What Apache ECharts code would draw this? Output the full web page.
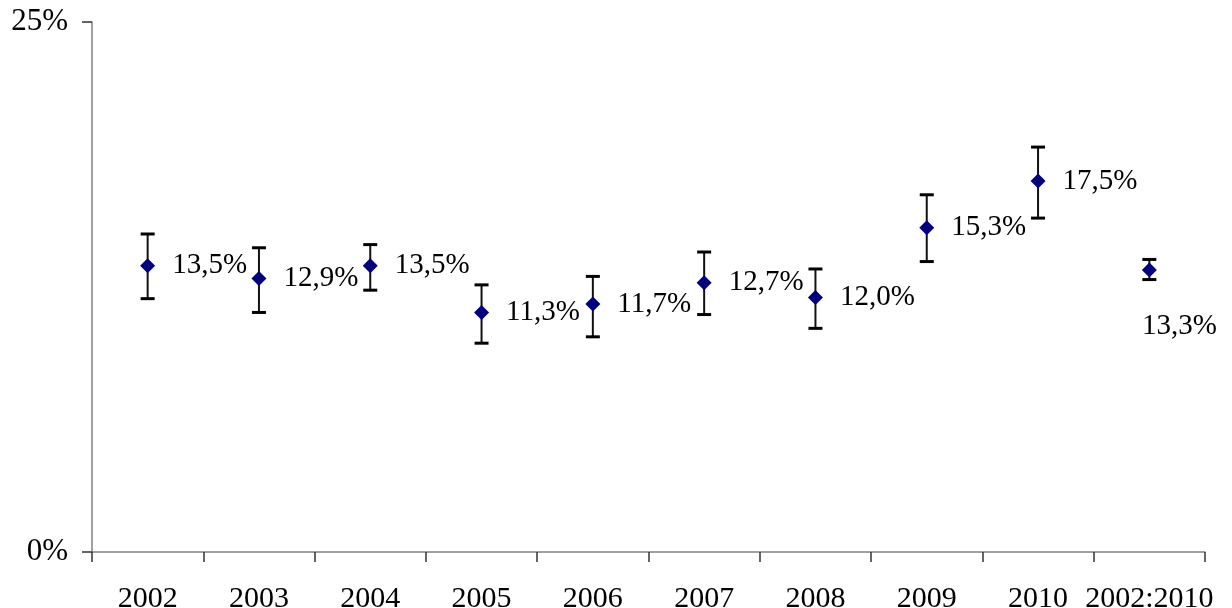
<!DOCTYPE html>
<html><head><meta charset="utf-8">
<script src="https://cdn.jsdelivr.net/npm/echarts@6/dist/echarts.min.js"></script>
<style>html,body{margin:0;padding:0;background:#fff}#c{width:1232px;height:608px}</style>
</head><body><div id="c"></div>
<script>
var categories = ['2002','2003','2004','2005','2006','2007','2008','2009','2010','2002:2010'];
var values = [13.5, 12.9, 13.5, 11.3, 11.7, 12.7, 12.0, 15.3, 17.5, 13.3];
var upper = [15.0, 14.35, 14.5, 12.6, 13.0, 14.15, 13.35, 16.85, 19.1, 13.8];
var lower = [11.95, 11.3, 12.35, 9.85, 10.15, 11.2, 10.55, 13.7, 15.75, 12.85];
var yTicks = [0, 25];

var FONT = '"Liberation Serif", "Times New Roman", serif';
var chart = echarts.init(document.getElementById('c'));
var errData = categories.map(function (c, i) { return [i, lower[i], upper[i]]; });
var ptData = values.map(function (v, i) {
  var d = { value: [i, v] };
  if (i === values.length - 1) d.label = { position: 'bottom', distance: 34, offset: [30, 0] };
  return d;
});
chart.setOption({
  animation: false,
  grid: { left: 92, right: 27, top: 22, bottom: 56, containLabel: false, outerBoundsMode: 'none' },
  xAxis: {
    type: 'category', data: categories, boundaryGap: true,
    axisLine: { lineStyle: { color: '#808080', width: 1.5 } },
    axisTick: { show: true, length: 10, lineStyle: { color: '#333', width: 1.5 } },
    axisLabel: { fontFamily: FONT, fontSize: 30, color: '#000', margin: 32, interval: 0 },
    splitLine: { show: false }
  },
  yAxis: {
    type: 'value', min: yTicks[0], max: yTicks[1], interval: 25,
    axisLine: { show: true, lineStyle: { color: '#808080', width: 1.5 } },
    axisTick: { show: true, length: 10, lineStyle: { color: '#333', width: 1.5 } },
    axisLabel: { fontFamily: FONT, fontSize: 31, color: '#000', margin: 24,
      formatter: function (v) { return v + '%'; } },
    splitLine: { show: false }
  },
  series: [
    {
      type: 'custom', data: errData, z: 2,
      renderItem: function (params, api) {
        var x = api.value(0);
        var lo = api.coord([x, api.value(1)]);
        var hi = api.coord([x, api.value(2)]);
        var hw = 7;
        return { type: 'group', children: [
          { type: 'line', shape: { x1: hi[0], y1: hi[1], x2: lo[0], y2: lo[1] }, style: { stroke: '#111', lineWidth: 2 } },
          { type: 'line', shape: { x1: hi[0] - hw, y1: hi[1], x2: hi[0] + hw, y2: hi[1] }, style: { stroke: '#000', lineWidth: 3 } },
          { type: 'line', shape: { x1: lo[0] - hw, y1: lo[1], x2: lo[0] + hw, y2: lo[1] }, style: { stroke: '#000', lineWidth: 3 } }
        ] };
      }
    },
    {
      type: 'scatter', data: ptData, z: 3,
      symbol: 'diamond', symbolSize: [15, 15],
      itemStyle: { color: '#000080', opacity: 1 },
      label: {
        show: true, position: 'right', distance: 17,
        fontFamily: FONT, fontSize: 29, color: '#000',
        formatter: function (p) { return p.value[1].toFixed(1).replace('.', ',') + '%'; }
      }
    }
  ]
});
</script></body></html>
